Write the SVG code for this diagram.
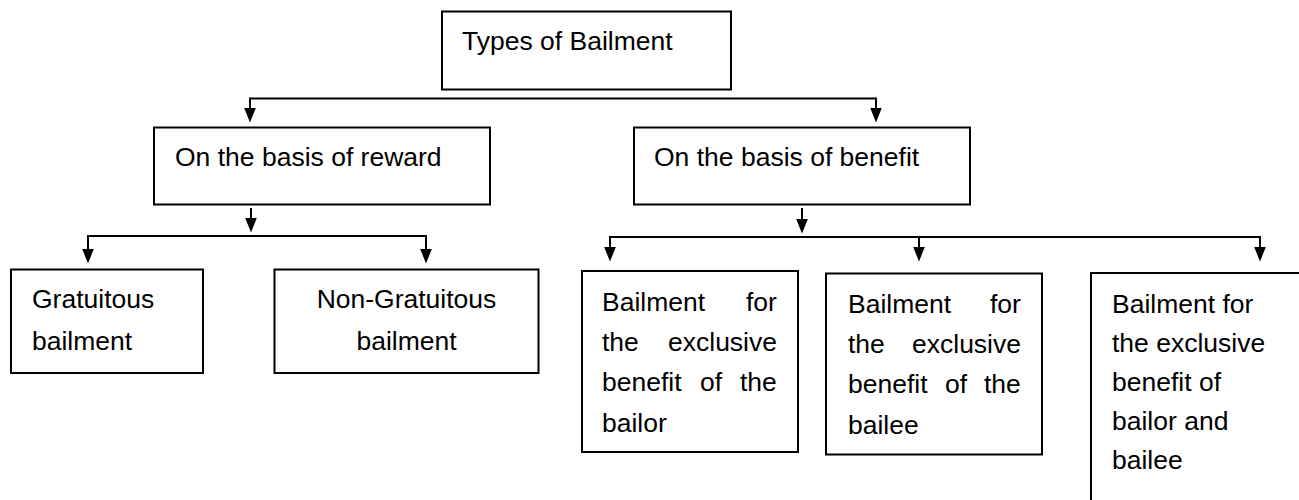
<svg xmlns="http://www.w3.org/2000/svg" width="1299" height="500" viewBox="0 0 1299 500">
  <style>
    .box { fill: #ffffff; stroke: #000000; stroke-width: 2; }
    .lbl { font-family: "Liberation Sans", Arial, sans-serif; font-size: 26.5px; fill: #000000; }
    .conn { fill: none; stroke: #000000; stroke-width: 2; }
  </style>
  <defs>
    <marker id="arrow" markerUnits="userSpaceOnUse" markerWidth="16" markerHeight="13" refX="0.5" refY="6.5" orient="auto" viewBox="0 0 16 13">
      <path d="M0,0.5 L15,6.5 L0,12.5 Z" fill="#000000"/>
    </marker>
  </defs>
  <rect width="1299" height="500" fill="#ffffff"/>

  <g id="connectors">
    <path class="conn" d="M250,98.5 H876"/>
    <path class="conn" d="M250,97.5 V108" marker-end="url(#arrow)"/>
    <path class="conn" d="M876,97.5 V108" marker-end="url(#arrow)"/>

    <path class="conn" d="M251,208 V218" marker-end="url(#arrow)"/>
    <path class="conn" d="M88,236 H426"/>
    <path class="conn" d="M88,235 V249" marker-end="url(#arrow)"/>
    <path class="conn" d="M426,235 V249" marker-end="url(#arrow)"/>

    <path class="conn" d="M802,208 V219" marker-end="url(#arrow)"/>
    <path class="conn" d="M610,237 H1260"/>
    <path class="conn" d="M610,236 V247" marker-end="url(#arrow)"/>
    <path class="conn" d="M919,236 V247" marker-end="url(#arrow)"/>
    <path class="conn" d="M1260,236 V247" marker-end="url(#arrow)"/>
  </g>

  <g id="types">
    <rect class="box" x="442" y="11.5" width="289" height="78"/>
    <text class="lbl" x="462" y="50">Types of Bailment</text>
  </g>

  <g id="reward">
    <rect class="box" x="154" y="127.5" width="336" height="77"/>
    <text class="lbl" x="175" y="166">On the basis of reward</text>
  </g>

  <g id="benefit">
    <rect class="box" x="634" y="127.5" width="336" height="77"/>
    <text class="lbl" x="654" y="166">On the basis of benefit</text>
  </g>

  <g id="gratuitous">
    <rect class="box" x="11" y="269.5" width="192" height="103.5"/>
    <text class="lbl" x="32" y="308">Gratuitous</text>
    <text class="lbl" x="32" y="350">bailment</text>
  </g>

  <g id="non-gratuitous">
    <rect class="box" x="274.5" y="269.5" width="264" height="103.5"/>
    <text class="lbl" x="406.5" y="308" text-anchor="middle">Non-Gratuitous</text>
    <text class="lbl" x="406.5" y="350" text-anchor="middle">bailment</text>
  </g>

  <g id="bailor">
    <rect class="box" x="582" y="271" width="216" height="181"/>
    <text class="lbl" y="310.5"><tspan x="602">Bailment </tspan><tspan x="746">for</tspan></text>
    <text class="lbl" y="351"><tspan x="602">the </tspan><tspan x="668">exclusive</tspan></text>
    <text class="lbl" y="391"><tspan x="602">benefit </tspan><tspan x="700">of </tspan><tspan x="740">the</tspan></text>
    <text class="lbl" x="602" y="431.5">bailor</text>
  </g>

  <g id="bailee">
    <rect class="box" x="826" y="273.5" width="216" height="181"/>
    <text class="lbl" y="312.5"><tspan x="848">Bailment </tspan><tspan x="990">for</tspan></text>
    <text class="lbl" y="353"><tspan x="848">the </tspan><tspan x="912">exclusive</tspan></text>
    <text class="lbl" y="393"><tspan x="848">benefit </tspan><tspan x="945">of </tspan><tspan x="984">the</tspan></text>
    <text class="lbl" x="848" y="433.5">bailee</text>
  </g>

  <g id="both">
    <rect class="box" x="1091" y="273" width="300" height="300"/>
    <text class="lbl" x="1112" y="312.5">Bailment for</text>
    <text class="lbl" x="1112" y="351.5">the exclusive</text>
    <text class="lbl" x="1112" y="391">benefit of</text>
    <text class="lbl" x="1112" y="430">bailor and</text>
    <text class="lbl" x="1112" y="469">bailee</text>
  </g>
</svg>
